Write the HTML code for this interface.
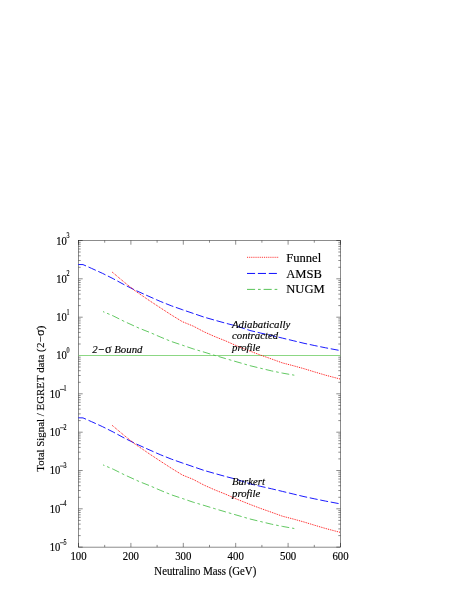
<!DOCTYPE html><html><head><meta charset="utf-8"><style>html,body{margin:0;padding:0;background:#fff}svg{display:block;will-change:transform}text{font-family:"Liberation Serif",serif;fill:#000;stroke:#000;stroke-width:0.15px}.x{stroke-width:0.12px}.i{font-style:italic}</style></head><body>
<svg width="463" height="599" viewBox="0 0 463 599">
<rect width="463" height="599" fill="#fff"/>
<g stroke="#000" stroke-width="0.45" fill="none">
<rect x="78.5" y="240.5" width="262.0" height="306.6"/>
<path d="M78.5 547.1v-4.2 M78.5 240.5v4.2 M104.7 547.1v-2.2 M104.7 240.5v2.2 M130.9 547.1v-4.2 M130.9 240.5v4.2 M157.1 547.1v-2.2 M157.1 240.5v2.2 M183.3 547.1v-4.2 M183.3 240.5v4.2 M209.5 547.1v-2.2 M209.5 240.5v2.2 M235.7 547.1v-4.2 M235.7 240.5v4.2 M261.9 547.1v-2.2 M261.9 240.5v2.2 M288.1 547.1v-4.2 M288.1 240.5v4.2 M314.3 547.1v-2.2 M314.3 240.5v2.2 M340.5 547.1v-4.2 M340.5 240.5v4.2 M78.5 547.1h4.2 M340.5 547.1h-4.2 M78.5 535.6h2.2 M340.5 535.6h-2.2 M78.5 528.9h2.2 M340.5 528.9h-2.2 M78.5 524.1h2.2 M340.5 524.1h-2.2 M78.5 520.4h2.2 M340.5 520.4h-2.2 M78.5 517.3h2.2 M340.5 517.3h-2.2 M78.5 514.8h2.2 M340.5 514.8h-2.2 M78.5 512.5h2.2 M340.5 512.5h-2.2 M78.5 510.6h2.2 M340.5 510.6h-2.2 M78.5 508.8h4.2 M340.5 508.8h-4.2 M78.5 497.3h2.2 M340.5 497.3h-2.2 M78.5 490.5h2.2 M340.5 490.5h-2.2 M78.5 485.7h2.2 M340.5 485.7h-2.2 M78.5 482.0h2.2 M340.5 482.0h-2.2 M78.5 479.0h2.2 M340.5 479.0h-2.2 M78.5 476.4h2.2 M340.5 476.4h-2.2 M78.5 474.2h2.2 M340.5 474.2h-2.2 M78.5 472.2h2.2 M340.5 472.2h-2.2 M78.5 470.5h4.2 M340.5 470.5h-4.2 M78.5 458.9h2.2 M340.5 458.9h-2.2 M78.5 452.2h2.2 M340.5 452.2h-2.2 M78.5 447.4h2.2 M340.5 447.4h-2.2 M78.5 443.7h2.2 M340.5 443.7h-2.2 M78.5 440.7h2.2 M340.5 440.7h-2.2 M78.5 438.1h2.2 M340.5 438.1h-2.2 M78.5 435.9h2.2 M340.5 435.9h-2.2 M78.5 433.9h2.2 M340.5 433.9h-2.2 M78.5 432.2h4.2 M340.5 432.2h-4.2 M78.5 420.6h2.2 M340.5 420.6h-2.2 M78.5 413.9h2.2 M340.5 413.9h-2.2 M78.5 409.1h2.2 M340.5 409.1h-2.2 M78.5 405.4h2.2 M340.5 405.4h-2.2 M78.5 402.3h2.2 M340.5 402.3h-2.2 M78.5 399.8h2.2 M340.5 399.8h-2.2 M78.5 397.5h2.2 M340.5 397.5h-2.2 M78.5 395.6h2.2 M340.5 395.6h-2.2 M78.5 393.8h4.2 M340.5 393.8h-4.2 M78.5 382.3h2.2 M340.5 382.3h-2.2 M78.5 375.5h2.2 M340.5 375.5h-2.2 M78.5 370.7h2.2 M340.5 370.7h-2.2 M78.5 367.0h2.2 M340.5 367.0h-2.2 M78.5 364.0h2.2 M340.5 364.0h-2.2 M78.5 361.4h2.2 M340.5 361.4h-2.2 M78.5 359.2h2.2 M340.5 359.2h-2.2 M78.5 357.2h2.2 M340.5 357.2h-2.2 M78.5 355.5h4.2 M340.5 355.5h-4.2 M78.5 344.0h2.2 M340.5 344.0h-2.2 M78.5 337.2h2.2 M340.5 337.2h-2.2 M78.5 332.4h2.2 M340.5 332.4h-2.2 M78.5 328.7h2.2 M340.5 328.7h-2.2 M78.5 325.7h2.2 M340.5 325.7h-2.2 M78.5 323.1h2.2 M340.5 323.1h-2.2 M78.5 320.9h2.2 M340.5 320.9h-2.2 M78.5 318.9h2.2 M340.5 318.9h-2.2 M78.5 317.2h4.2 M340.5 317.2h-4.2 M78.5 305.6h2.2 M340.5 305.6h-2.2 M78.5 298.9h2.2 M340.5 298.9h-2.2 M78.5 294.1h2.2 M340.5 294.1h-2.2 M78.5 290.4h2.2 M340.5 290.4h-2.2 M78.5 287.3h2.2 M340.5 287.3h-2.2 M78.5 284.8h2.2 M340.5 284.8h-2.2 M78.5 282.5h2.2 M340.5 282.5h-2.2 M78.5 280.6h2.2 M340.5 280.6h-2.2 M78.5 278.8h4.2 M340.5 278.8h-4.2 M78.5 267.3h2.2 M340.5 267.3h-2.2 M78.5 260.5h2.2 M340.5 260.5h-2.2 M78.5 255.8h2.2 M340.5 255.8h-2.2 M78.5 252.0h2.2 M340.5 252.0h-2.2 M78.5 249.0h2.2 M340.5 249.0h-2.2 M78.5 246.4h2.2 M340.5 246.4h-2.2 M78.5 244.2h2.2 M340.5 244.2h-2.2 M78.5 242.3h2.2 M340.5 242.3h-2.2 M78.5 240.5h4.2 M340.5 240.5h-4.2"/>
</g>
<path d="M78.5 355.5H340.5" stroke="#8cd784" stroke-width="1" fill="none"/>
<path d="M78.3 264.5 L83.0 264.6 L91.6 268.4 L102.4 273.3 L113.2 278.7 L124.0 284.6 L134.8 290.0 L145.6 294.9 L156.4 299.7 L160.8 301.6 L171.6 305.9 L182.4 309.7 L193.2 313.4 L204.0 317.1 L214.8 320.2 L225.6 323.2 L236.4 326.0 L250.0 330.5 L260.8 333.1 L271.6 335.5 L282.4 338.1 L293.2 340.7 L304.0 343.3 L314.8 345.6 L325.6 347.8 L340.4 350.6" stroke="#0000ff" stroke-width="0.9" stroke-dasharray="8.0 2.7" fill="none"/>
<path d="M112.1 272.0 L124.0 282.0 L134.8 290.6 L145.6 298.0 L150.0 301.0 L160.8 308.1 L171.6 315.1 L182.4 321.7 L193.2 326.1 L204.0 331.8 L214.8 336.6 L225.6 340.9 L236.4 345.7 L250.0 351.1 L260.8 355.2 L271.6 359.0 L282.4 362.9 L293.2 365.7 L304.0 368.7 L314.8 372.0 L325.6 375.2 L340.4 379.1" stroke="#ff0000" stroke-width="0.95" stroke-dasharray="0.95 0.94" fill="none"/>
<path d="M103.0 311.6 L113.2 315.9 L124.0 321.3 L139.1 328.2 L150.0 332.5 L160.8 337.2 L171.6 341.6 L182.4 345.2 L193.2 348.9 L204.0 352.1 L214.8 355.4 L225.6 358.6 L250.0 365.7 L260.8 368.3 L271.6 370.9 L282.4 373.1 L294.3 375.2" stroke="#2db52d" stroke-width="0.75" stroke-dasharray="7.8 2.9 2.7 2.9" stroke-dashoffset="6.3" fill="none"/>
<path d="M78.3 417.8 L83.0 417.9 L91.6 421.7 L102.4 426.6 L113.2 432.0 L124.0 437.9 L134.8 443.3 L145.6 448.2 L156.4 453.0 L160.8 454.9 L171.6 459.2 L182.4 463.0 L193.2 466.7 L204.0 470.4 L214.8 473.5 L225.6 476.5 L236.4 479.3 L250.0 483.8 L260.8 486.4 L271.6 488.8 L282.4 491.4 L293.2 494.0 L304.0 496.6 L314.8 498.9 L325.6 501.1 L340.4 503.9" stroke="#0000ff" stroke-width="0.9" stroke-dasharray="8.0 2.7" fill="none"/>
<path d="M112.1 425.3 L124.0 435.3 L134.8 443.9 L145.6 451.3 L150.0 454.3 L160.8 461.4 L171.6 468.4 L182.4 475.0 L193.2 479.4 L204.0 485.1 L214.8 489.9 L225.6 494.2 L236.4 499.0 L250.0 504.4 L260.8 508.5 L271.6 512.3 L282.4 516.2 L293.2 519.0 L304.0 522.0 L314.8 525.3 L325.6 528.5 L340.4 532.4" stroke="#ff0000" stroke-width="0.95" stroke-dasharray="0.95 0.94" fill="none"/>
<path d="M103.0 464.9 L113.2 469.2 L124.0 474.6 L139.1 481.5 L150.0 485.8 L160.8 490.5 L171.6 494.9 L182.4 498.5 L193.2 502.2 L204.0 505.4 L214.8 508.7 L225.6 511.9 L250.0 519.0 L260.8 521.6 L271.6 524.2 L282.4 526.4 L294.3 528.5" stroke="#2db52d" stroke-width="0.75" stroke-dasharray="7.8 2.9 2.7 2.9" stroke-dashoffset="6.3" fill="none"/>
<path d="M247 257.3H279" stroke="#ff0000" stroke-width="0.85" stroke-dasharray="0.95 0.94" fill="none"/>
<path d="M247 273.45H277.6" stroke="#0000ff" stroke-width="0.95" stroke-dasharray="8.1 2.8" fill="none"/>
<path d="M247 289.4H278" stroke="#2db52d" stroke-width="0.8" stroke-dasharray="8.1 2.9 2.7 2.9" fill="none"/>
<text transform="translate(286.20 261.50) scale(1 1.030)" font-size="12.6" text-anchor="start">Funnel</text>
<text transform="translate(286.20 277.60) scale(1 1.030)" font-size="12.6" text-anchor="start">AMSB</text>
<text transform="translate(286.20 293.40) scale(1 1.030)" font-size="12.6" text-anchor="start">NUGM</text>
<text transform="translate(78.50 559.80) scale(1 1.080)" font-size="10.8" text-anchor="middle">100</text>
<text transform="translate(130.90 559.80) scale(1 1.080)" font-size="10.8" text-anchor="middle">200</text>
<text transform="translate(183.30 559.80) scale(1 1.080)" font-size="10.8" text-anchor="middle">300</text>
<text transform="translate(235.70 559.80) scale(1 1.080)" font-size="10.8" text-anchor="middle">400</text>
<text transform="translate(288.10 559.80) scale(1 1.080)" font-size="10.8" text-anchor="middle">500</text>
<text transform="translate(340.50 559.80) scale(1 1.080)" font-size="10.8" text-anchor="middle">600</text>
<text transform="translate(205.30 574.60) scale(1 1.080)" font-size="10.8" text-anchor="middle">Neutralino Mass (GeV)</text>
<text transform="translate(49.80 551.15) scale(1 1.130)" font-size="10.6" text-anchor="start">10</text>
<path d="M59.9 542.75h4.6" stroke="#000" stroke-width="0.7" fill="none"/>
<text transform="translate(63.60 544.65) scale(1 1.220)" font-size="6.1" text-anchor="start" class="x">5</text>
<text transform="translate(49.80 512.82) scale(1 1.130)" font-size="10.6" text-anchor="start">10</text>
<path d="M59.9 504.42h4.6" stroke="#000" stroke-width="0.7" fill="none"/>
<text transform="translate(63.60 506.32) scale(1 1.220)" font-size="6.1" text-anchor="start" class="x">4</text>
<text transform="translate(49.80 474.49) scale(1 1.130)" font-size="10.6" text-anchor="start">10</text>
<path d="M59.9 466.09h4.6" stroke="#000" stroke-width="0.7" fill="none"/>
<text transform="translate(63.60 467.99) scale(1 1.220)" font-size="6.1" text-anchor="start" class="x">3</text>
<text transform="translate(49.80 436.16) scale(1 1.130)" font-size="10.6" text-anchor="start">10</text>
<path d="M59.9 427.76h4.6" stroke="#000" stroke-width="0.7" fill="none"/>
<text transform="translate(63.60 429.66) scale(1 1.220)" font-size="6.1" text-anchor="start" class="x">2</text>
<text transform="translate(49.80 397.82) scale(1 1.130)" font-size="10.6" text-anchor="start">10</text>
<path d="M59.9 389.43h4.6" stroke="#000" stroke-width="0.7" fill="none"/>
<text transform="translate(63.60 391.32) scale(1 1.220)" font-size="6.1" text-anchor="start" class="x">1</text>
<text transform="translate(56.30 359.49) scale(1 1.130)" font-size="10.6" text-anchor="start">10</text>
<text transform="translate(66.60 352.89) scale(1 1.220)" font-size="6.1" text-anchor="start" class="x">0</text>
<text transform="translate(56.30 321.16) scale(1 1.130)" font-size="10.6" text-anchor="start">10</text>
<text transform="translate(66.60 314.56) scale(1 1.220)" font-size="6.1" text-anchor="start" class="x">1</text>
<text transform="translate(56.30 282.83) scale(1 1.130)" font-size="10.6" text-anchor="start">10</text>
<text transform="translate(66.60 276.23) scale(1 1.220)" font-size="6.1" text-anchor="start" class="x">2</text>
<text transform="translate(56.30 244.50) scale(1 1.130)" font-size="10.6" text-anchor="start">10</text>
<text transform="translate(66.60 237.90) scale(1 1.220)" font-size="6.1" text-anchor="start" class="x">3</text>
<text transform="translate(44.35 471.70) rotate(-90) scale(1 1.000)" font-size="10.9" text-anchor="start">Total Signal / EGRET data <tspan letter-spacing="0.25">(2−</tspan><tspan font-size="12.6">σ</tspan>)</text>
<text transform="translate(92.30 353.10) scale(1 1.000)" font-size="10.8" text-anchor="start" class="i">2−<tspan font-style="normal" font-size="12.2">σ</tspan> Bound</text>
<text transform="translate(232.00 327.50) scale(1 1.000)" font-size="10.8" text-anchor="start" class="i">Adiabatically</text>
<text transform="translate(232.00 339.30) scale(1 1.000)" font-size="10.8" text-anchor="start" class="i">contracted</text>
<text transform="translate(232.00 350.90) scale(1 1.000)" font-size="10.8" text-anchor="start" class="i">profile</text>
<text transform="translate(232.00 484.90) scale(1 1.000)" font-size="10.8" text-anchor="start" class="i">Burkert</text>
<text transform="translate(232.00 497.00) scale(1 1.000)" font-size="10.8" text-anchor="start" class="i">profile</text>
</svg></body></html>
